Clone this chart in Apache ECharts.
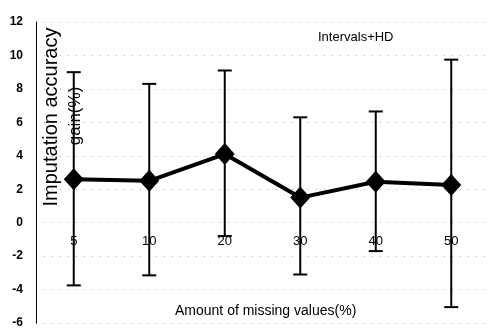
<!DOCTYPE html>
<html><head><meta charset="utf-8">
<script src="https://cdn.jsdelivr.net/npm/echarts@6/dist/echarts.min.js"></script>
<style>html,body{margin:0;padding:0;background:#fff}#c{width:489px;height:329px}</style>
</head><body><div id="c"></div>
<script>
const categories = ['5', '10', '20', '30', '40', '50'];
const gainValues = [2.6, 2.5, 4.1, 1.5, 2.45, 2.25];
const errorHigh = [9.0, 8.3, 9.1, 6.3, 6.65, 9.75];
const errorLow = [-3.75, -3.15, -0.8, -3.1, -1.7, -5.05];
const yTicks = [-6, 12, 2];

const chart = echarts.init(document.getElementById('c'));
const errData = categories.map((c, i) => [i, errorLow[i], errorHigh[i]]);

chart.setOption({
  animation: false,
  backgroundColor: '#fff',
  grid: { left: 36, top: 22, bottom: 4, width: 460 },
  xAxis: {
    type: 'category',
    data: categories,
    boundaryGap: true,
    position: 'bottom',
    offset: -101,
    axisLine: { show: false, onZero: false },
    axisTick: { show: false },
    axisLabel: { margin: 13, color: '#000', fontFamily: 'Liberation Sans', fontSize: 13 },
    splitLine: { show: false },
    z: 10
  },
  yAxis: {
    type: 'value',
    min: yTicks[0], max: yTicks[1], interval: yTicks[2],
    axisLine: { show: true, onZero: false, lineStyle: { color: '#000', width: 1 } },
    axisTick: { show: false },
    axisLabel: { margin: 13, color: '#000', fontFamily: 'Liberation Sans', fontWeight: 'bold', fontSize: 12 },
    splitLine: { show: true, lineStyle: { color: '#aaa', type: [1, 7], width: 1 } }
  },
  graphic: [
    { type: 'text', left: 318, top: 31, z: 20, style: { text: 'Intervals+HD', fontFamily: 'Liberation Sans', fontSize: 13, fill: '#000' } },
    { type: 'text', left: 175, top: 304, z: 20, style: { text: 'Amount of missing values(%)', fontFamily: 'Liberation Sans', fontSize: 14, fill: '#000' } },
    { type: 'text', x: 51, y: 117, rotation: Math.PI / 2, z: 20, style: { text: 'Imputation accuracy', fontFamily: 'Liberation Sans', fontSize: 20, fill: '#000', align: 'center', verticalAlign: 'middle' } },
    { type: 'text', x: 75, y: 116, rotation: Math.PI / 2, z: 20, style: { text: 'gain(%)', fontFamily: 'Liberation Sans', fontSize: 17, fill: '#000', align: 'center', verticalAlign: 'middle' } }
  ],
  series: [
    {
      type: 'custom',
      data: errData,
      z: 3,
      renderItem: function (params, api) {
        const x = api.value(0);
        const lo = api.coord([x, api.value(1)]);
        const hi = api.coord([x, api.value(2)]);
        const hw = 7;
        const st = { stroke: '#000', lineWidth: 2 };
        return {
          type: 'group',
          children: [
            { type: 'line', shape: { x1: hi[0], y1: hi[1], x2: lo[0], y2: lo[1] }, style: st },
            { type: 'line', shape: { x1: hi[0] - hw, y1: hi[1], x2: hi[0] + hw, y2: hi[1] }, style: st },
            { type: 'line', shape: { x1: lo[0] - hw, y1: lo[1], x2: lo[0] + hw, y2: lo[1] }, style: st }
          ]
        };
      }
    },
    {
      type: 'line',
      data: gainValues,
      z: 5,
      symbol: 'diamond',
      symbolSize: [20, 22],
      itemStyle: { color: '#000' },
      lineStyle: { color: '#000', width: 4 }
    }
  ]
});
</script></body></html>
